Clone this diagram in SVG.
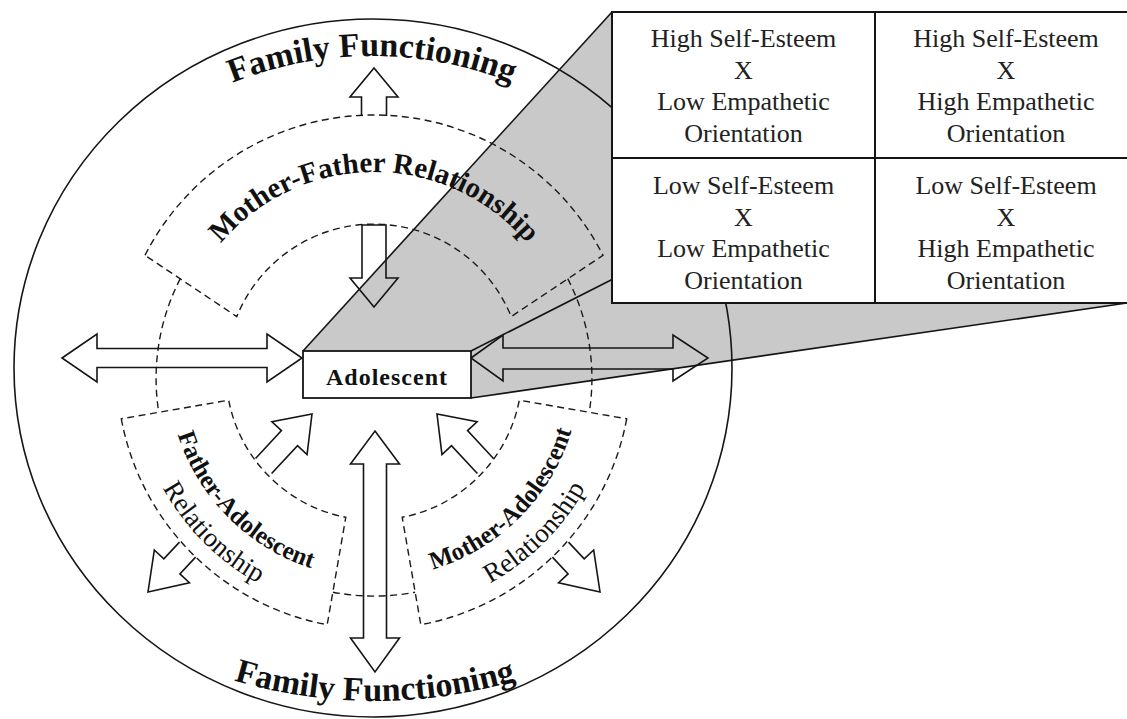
<svg xmlns="http://www.w3.org/2000/svg" width="1127" height="719" viewBox="0 0 1127 719">
<style>
.ln{fill:none;stroke:#151515;stroke-width:1.6;stroke-linejoin:miter}
.dash{fill:none;stroke:#1a1a1a;stroke-width:1.4;stroke-dasharray:7 4.5}
.arr{fill:none;stroke:#151515;stroke-width:1.6;stroke-linejoin:miter}
.big{font-family:"Liberation Serif","Times New Roman",serif;font-weight:bold;font-size:34px;fill:#111}
.lab{font-family:"Liberation Serif","Times New Roman",serif;font-weight:bold;font-size:29px;fill:#111}
.sub{font-family:"Liberation Serif","Times New Roman",serif;font-weight:bold;font-size:25px;fill:#111}
.sub2{font-family:"Liberation Serif","Times New Roman",serif;font-size:27px;fill:#111}
.cell{font-family:"Liberation Serif","Times New Roman",serif;font-size:26px;fill:#222;text-anchor:middle}
</style>
<defs>
<path id="tpTop" d="M-4,432 A376,376 0 0 1 748,432"/>
<path id="tpBot" d="M-118,208 A493,493 0 0 0 868,208"/>
<path id="tpMF" d="M174,372 A200,200 0 0 1 574,372"/>
<path id="tpFA1" d="M168,372 A206,206 0 0 0 374,578"/>
<path id="tpFA2" d="M133,372 A241,241 0 0 0 374,613"/>
<path id="tpMA1" d="M374,578 A206,206 0 0 0 580,372"/>
<path id="tpMA2" d="M374,613 A241,241 0 0 0 615,372"/>
</defs>
<rect width="1127" height="719" fill="#fff"/>
<g id="projection">
<polygon points="303,351 612,12 612,303 1127,303 471,398 471,351" fill="#c9c9c9"/>
<line class="ln" x1="303" y1="351" x2="612" y2="12"/>
<line class="ln" x1="471" y1="351" x2="612" y2="279.5"/>
<line class="ln" x1="471" y1="398" x2="1127" y2="303"/>
</g>
<g id="node-family">
<ellipse class="ln" cx="373" cy="368" rx="359" ry="349"/>
<text class="big"><textPath href="#tpTop" startOffset="50%" text-anchor="middle">Family Functioning</textPath></text>
<text class="big"><textPath href="#tpBot" startOffset="50%" text-anchor="middle">Family Functioning</textPath></text>
</g>
<g id="gap-arcs">
<path class="dash" d="M180.3,278.6 A218,218 0 0 0 158.7,412.1"/>
<path class="dash" d="M567.7,278.6 A218,218 0 0 1 589.3,412.1"/>
<path class="dash" d="M332.9,592.2 A218,218 0 0 0 415.1,592.2"/>
</g>
<g id="node-mother-father">
<path class="dash" d="M145,255.3 A257,257 0 0 1 603,255.3 L511.2,316.6 A148,148 0 0 0 236.8,316.6 Z"/>
<text class="lab"><textPath href="#tpMF" startOffset="50%" text-anchor="middle">Mother-Father Relationship</textPath></text>
</g>
<g id="node-father-adolescent">
<path class="dash" d="M121.3,418.8 A257,257 0 0 0 327.2,624.7 L345.8,517.3 A148,148 0 0 1 228.7,400.2 Z"/>
<text class="sub"><textPath href="#tpFA1" startOffset="50%" text-anchor="middle">Father-Adolescent</textPath></text>
<text class="sub2"><textPath href="#tpFA2" startOffset="50%" text-anchor="middle">Relationship</textPath></text>
</g>
<g id="node-mother-adolescent">
<path class="dash" d="M626.7,418.8 A257,257 0 0 1 420.8,624.7 L402.2,517.3 A148,148 0 0 0 519.3,400.2 Z"/>
<text class="sub"><textPath href="#tpMA1" startOffset="50%" text-anchor="middle">Mother-Adolescent</textPath></text>
<text class="sub2"><textPath href="#tpMA2" startOffset="50%" text-anchor="middle">Relationship</textPath></text>
</g>
<g id="connectors">
<path class="arr" d="M62,358 L97,334 L97,348.5 L267,348.5 L267,334 L302,358 L267,382 L267,367.5 L97,367.5 L97,382 Z"/>
<path class="arr" d="M471,358 L503,335 L503,348 L673,348 L673,335 L708,358 L673,381 L673,369 L503,369 L503,381 Z"/>
<path class="arr" d="M375,431 L399.5,464 L386.5,464 L386.5,638 L399.5,638 L375,672 L350.5,638 L363.5,638 L363.5,464 L350.5,464 Z"/>
<path class="arr" d="M361.5,116 L361.5,97 L350,97 L374,68 L398,97 L386.5,97 L386.5,116"/>
<path class="arr" d="M362,225 L362,278 L350,278 L374,307 L398,278 L386,278 L386,225 Z"/>
<path class="arr" transform="translate(312,414) rotate(-47)" d="M-71,-11 L-33,-11 L-33,-24 L0,0 L-33,24 L-33,11 L-71,11"/>
<path class="arr" transform="translate(437,414) rotate(-133)" d="M-71,-11 L-33,-11 L-33,-24 L0,0 L-33,24 L-33,11 L-71,11"/>
<path class="arr" transform="translate(148,592) rotate(133)" d="M-58,-11 L-35,-11 L-35,-24 L0,0 L-35,24 L-35,11 L-58,11"/>
<path class="arr" transform="translate(600,592) rotate(47)" d="M-58,-11 L-35,-11 L-35,-24 L0,0 L-35,24 L-35,11 L-58,11"/>
</g>
<g id="node-adolescent">
<rect x="303" y="351" width="168" height="47" fill="#fff" stroke="#151515" stroke-width="1.8"/>
<text x="387" y="385" text-anchor="middle" font-family="Liberation Serif, Times New Roman, serif" font-weight="bold" font-size="24" letter-spacing="1" fill="#111">Adolescent</text>
</g>
<g id="node-table">
<rect x="612" y="12" width="525" height="291" fill="#fff" stroke="#151515" stroke-width="2"/>
<line x1="875" y1="12" x2="875" y2="303" stroke="#151515" stroke-width="2"/>
<line x1="612" y1="158" x2="1137" y2="158" stroke="#151515" stroke-width="2"/>
<g class="cell">
<text x="743.5" y="47">High Self-Esteem</text>
<text x="743.5" y="79">X</text>
<text x="743.5" y="110">Low Empathetic</text>
<text x="743.5" y="142">Orientation</text>
<text x="1006" y="47">High Self-Esteem</text>
<text x="1006" y="79">X</text>
<text x="1006" y="110">High Empathetic</text>
<text x="1006" y="142">Orientation</text>
<text x="743.5" y="194">Low Self-Esteem</text>
<text x="743.5" y="226">X</text>
<text x="743.5" y="257">Low Empathetic</text>
<text x="743.5" y="289">Orientation</text>
<text x="1006" y="194">Low Self-Esteem</text>
<text x="1006" y="226">X</text>
<text x="1006" y="257">High Empathetic</text>
<text x="1006" y="289">Orientation</text>
</g>
</g>
</svg>
